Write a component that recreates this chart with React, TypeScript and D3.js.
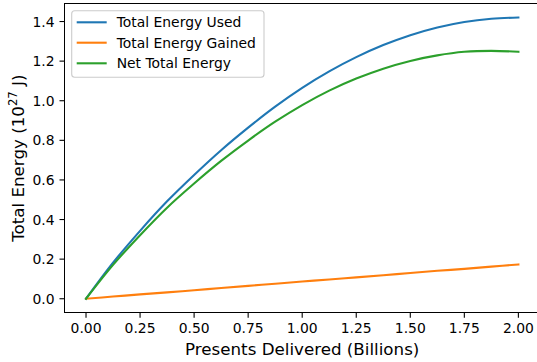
import React from "react";
import * as d3 from "d3";

const presents = [0, 0.125, 0.25, 0.375, 0.5, 0.625, 0.75, 0.875, 1.0, 1.125, 1.25, 1.375, 1.5, 1.625, 1.75, 1.875, 2.0];
const energyUsed = [0, 0.182, 0.343, 0.492, 0.625, 0.75, 0.864, 0.97, 1.065, 1.148, 1.22, 1.281, 1.331, 1.37, 1.398, 1.414, 1.42];
const energyGained = [0, 0.011, 0.022, 0.032, 0.043, 0.054, 0.065, 0.076, 0.087, 0.097, 0.108, 0.119, 0.13, 0.141, 0.151, 0.162, 0.173];
const netEnergy = [0, 0.171, 0.321, 0.46, 0.582, 0.696, 0.799, 0.894, 0.978, 1.051, 1.112, 1.162, 1.201, 1.229, 1.247, 1.252, 1.247];

const xTicks = [0, 0.25, 0.5, 0.75, 1.0, 1.25, 1.5, 1.75, 2.0];
const yTicks = [0, 0.2, 0.4, 0.6, 0.8, 1.0, 1.2, 1.4];

const seriesNames = ["Total Energy Used", "Total Energy Gained", "Net Total Energy"];
const seriesColors = ["#1f77b4", "#ff7f0e", "#2ca02c"];
const seriesValues = [energyUsed, energyGained, netEnergy];

const W = 537;
const H = 362;
const FONT = "DejaVu Sans, sans-serif";

export default function App() {
  const left = 64.4, right = 540, top = 3.5, bottom = 312.8;
  const x = d3.scaleLinear().domain([-0.1, 2.1]).range([left, right]);
  const y = d3.scaleLinear().domain([-0.071, 1.491]).range([bottom, top]);

  const line = d3
    .line<number>()
    .x((_, i) => x(presents[i]))
    .y((d) => y(d))
    .curve(d3.curveCatmullRom.alpha(0.5));

  const legX = 71.7, legY = 10.7, legW = 192.3, legH = 66.6;
  const rowY = [22.3, 42.7, 63.3];

  return (
    <svg
      width={W}
      height={H}
      style={{ position: "absolute", left: 0, top: 0, background: "#fff" }}
      fontFamily={FONT}
    >
      <rect x={0} y={0} width={W} height={H} fill="#fff" />
      {seriesValues.map((vals, k) => (
        <path
          key={k}
          d={line(vals) || ""}
          fill="none"
          stroke={seriesColors[k]}
          strokeWidth={2.1}
          strokeLinecap="square"
        />
      ))}
      {/* spines */}
      <g stroke="#000" strokeWidth={1.1} fill="none" shapeRendering="crispEdges">
        <line x1={left} y1={top} x2={left} y2={bottom} />
        <line x1={left} y1={bottom} x2={right} y2={bottom} />
        <line x1={left} y1={top} x2={right} y2={top} />
        <line x1={right} y1={top} x2={right} y2={bottom} />
      </g>
      {/* x ticks */}
      {xTicks.map((t) => (
        <g key={"x" + t}>
          <line x1={x(t)} x2={x(t)} y1={bottom} y2={bottom + 4.9} stroke="#000" strokeWidth={1.1} />
          <text x={x(t)} y={333} textAnchor="middle" fontSize={13.9} fill="#000">
            {t.toFixed(2)}
          </text>
        </g>
      ))}
      {/* y ticks */}
      {yTicks.map((t) => (
        <g key={"y" + t}>
          <line x1={left - 4.9} x2={left} y1={y(t)} y2={y(t)} stroke="#000" strokeWidth={1.1} />
          <text x={left - 9.8} y={y(t)} dy="0.36em" textAnchor="end" fontSize={13.9} fill="#000">
            {t.toFixed(1)}
          </text>
        </g>
      ))}
      <text x={(left + right) / 2} y={355} textAnchor="middle" fontSize={16.7} fill="#000">
        Presents Delivered (Billions)
      </text>
      <text
        transform={`translate(23.5, ${(top + bottom) / 2}) rotate(-90)`}
        textAnchor="middle"
        fontSize={16.7}
        fill="#000"
      >
        Total Energy (10
        <tspan fontSize={11.7} dy={-6.5}>27</tspan>
        <tspan dy={6.5}> J)</tspan>
      </text>
      {/* legend */}
      <rect
        x={legX}
        y={legY}
        width={legW}
        height={legH}
        rx={3}
        ry={3}
        fill="#fff"
        fillOpacity={0.8}
        stroke="#cccccc"
        strokeWidth={1.1}
      />
      {seriesNames.map((name, k) => (
        <g key={name}>
          <line x1={76.7} x2={106.7} y1={rowY[k]} y2={rowY[k]} stroke={seriesColors[k]} strokeWidth={2.1} />
          <text x={116.7} y={rowY[k] + 5} fontSize={13.9} fill="#000">
            {name}
          </text>
        </g>
      ))}
    </svg>
  );
}
